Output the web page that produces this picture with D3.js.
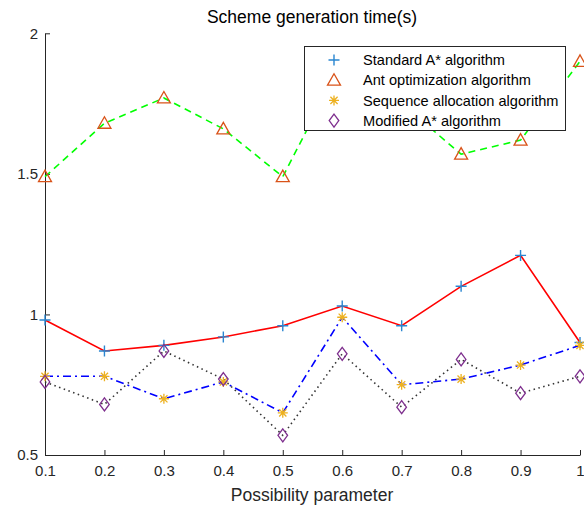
<!DOCTYPE html>
<html><head><meta charset="utf-8">
<script src="https://cdn.jsdelivr.net/npm/d3@7"></script>
<style>body{margin:0;background:#fff}svg text{font-family:"Liberation Sans",Arial,sans-serif}</style>
</head><body><svg id="c" width="584" height="508"></svg>
<script>
const params = [0.1,0.2,0.3,0.4,0.5,0.6,0.7,0.8,0.9,1.0];
const standardA = [0.98,0.87,0.89,0.92,0.96,1.03,0.96,1.10,1.21,0.90];
const antOpt = [1.49,1.68,1.77,1.66,1.49,1.90,1.75,1.57,1.62,1.90];
const seqAlloc = [0.78,0.78,0.70,0.76,0.65,0.99,0.75,0.77,0.82,0.89];
const modifiedA = [0.76,0.68,0.87,0.77,0.57,0.86,0.67,0.84,0.72,0.78];
const xTicks = [0.1,0.2,0.3,0.4,0.5,0.6,0.7,0.8,0.9,1];
const yTicks = [0.5,1,1.5,2];
const names = ["Standard A* algorithm","Ant optimization algorithm","Sequence allocation algorithm","Modified A* algorithm"];

const svg = d3.select("#c");
const x = d3.scaleLinear().domain([0.1,1]).range([45,580]);
const y = d3.scaleLinear().domain([0.5,2]).range([455,33.3]);

const series = [
  {name:names[0], data:standardA, line:"#ff0000", dash:null, mk:"plus", mc:"#2a86d1"},
  {name:names[1], data:antOpt, line:"#00ff00", dash:"7,5", mk:"tri", mc:"#d95319"},
  {name:names[2], data:seqAlloc, line:"#0000ff", dash:"8,4,2,4", mk:"star", mc:"#edb120"},
  {name:names[3], data:modifiedA, line:"#333333", dash:"1.5,3.5", mk:"dia", mc:"#7e2f8e"}
];

function marker(g, type, color){
  if(type==="plus"){
    g.append("path").attr("d","M-5.5,0H5.5M0,-5.5V5.5").attr("stroke",color).attr("stroke-width",1.4).attr("fill","none");
  } else if(type==="tri"){
    g.append("path").attr("d","M0,-6.5L6.5,5L-6.5,5Z").attr("stroke",color).attr("stroke-width",1.3).attr("fill","none");
  } else if(type==="star"){
    g.append("path").attr("d","M-5,0H5M0,-5V5M-3.6,-3.6L3.6,3.6M-3.6,3.6L3.6,-3.6").attr("stroke",color).attr("stroke-width",1.3).attr("fill","none");
  } else if(type==="dia"){
    g.append("path").attr("d","M0,-6.5L4.8,0L0,6.5L-4.8,0Z").attr("stroke",color).attr("stroke-width",1.3).attr("fill","none");
  }
}

// axes
const xAxis = d3.axisBottom(x).tickValues(xTicks).tickSizeInner(-5).tickSizeOuter(0).tickPadding(8).tickFormat(d=>d===1?"1":d3.format(".1f")(d));
const gx = svg.append("g").attr("transform","translate(0,455)").call(xAxis);
const yAxis = d3.axisLeft(y).tickValues(yTicks).tickSizeInner(-5).tickSizeOuter(0).tickPadding(7).tickFormat(d=>String(d));
const gy = svg.append("g").attr("transform","translate(45,0)").call(yAxis);
[gx,gy].forEach(g=>{
  g.select(".domain").attr("stroke","#262626").attr("stroke-width",1);
  g.selectAll(".tick line").attr("stroke","#262626");
  g.selectAll(".tick text").attr("fill","#262626").attr("font-size",15);
});
gx.selectAll(".tick text").attr("dy","0.85em");

// lines
const lineGen = d3.line().x((d,i)=>x(params[i])).y(d=>y(d));
series.forEach(s=>{
  svg.append("path").datum(s.data).attr("d",lineGen).attr("fill","none")
    .attr("stroke",s.line).attr("stroke-width",1.6).attr("stroke-dasharray",s.dash);
});
series.forEach(s=>{
  s.data.forEach((v,i)=>{
    const g = svg.append("g").attr("transform",`translate(${x(params[i])},${y(v)})`);
    marker(g,s.mk,s.mc);
  });
});

// title & labels
svg.append("text").attr("x",312).attr("y",23).attr("text-anchor","middle").attr("font-size",17.5).attr("fill","#000").text("Scheme generation time(s)");
svg.append("text").attr("x",312).attr("y",501).attr("text-anchor","middle").attr("font-size",17.5).attr("fill","#262626").text("Possibility parameter");

// legend
const lg = svg.append("g");
lg.append("rect").attr("x",304.5).attr("y",46.5).attr("width",261).attr("height",84).attr("fill","#fff").attr("stroke","#262626").attr("stroke-width",1);
series.forEach((s,i)=>{
  const yy = 60 + i*20.2;
  const g = lg.append("g").attr("transform",`translate(334,${yy})`);
  marker(g,s.mk,s.mc);
  lg.append("text").attr("x",363).attr("y",yy).attr("dy","0.35em").attr("font-size",14.6).attr("fill","#000").text(s.name);
});
</script></body></html>
